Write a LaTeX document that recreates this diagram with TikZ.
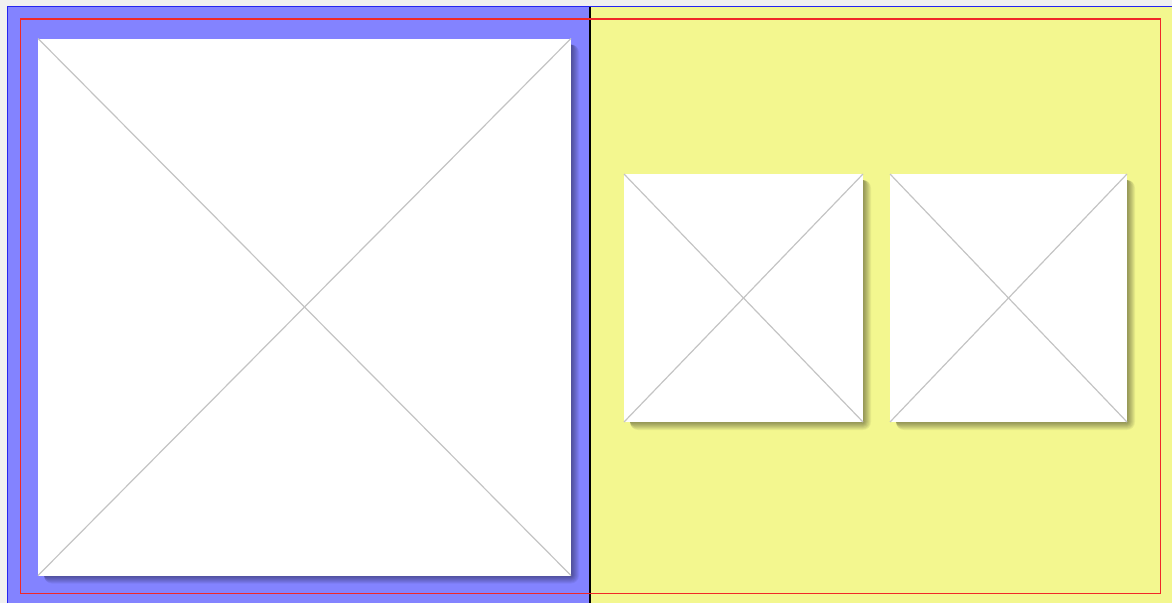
\documentclass[tikz,border=0pt]{standalone}
\usetikzlibrary{calc}
\definecolor{bgGray}{HTML}{F0F0F0}
\definecolor{panelBlue}{HTML}{8383FF}
\definecolor{panelYellow}{HTML}{F3F78F}
\definecolor{edgeBlue}{HTML}{2424F0}
\definecolor{frameRed}{HTML}{F02828}
\definecolor{crossGray}{HTML}{C4C4C4}
\tikzset{
  imgbox/.style={draw=none, fill=white, inner sep=0pt, outer sep=0pt},
  crossline/.style={draw=crossGray, line width=1.2pt},
  panelline/.style={line width=1.6pt}
}
% soft shadow below-right of the named node
\newcommand{\softshadow}[1]{%
  \foreach \d in {8,7,6,5,4,3,2,1}{%
    \fill[black, fill opacity=0.055, rounded corners=\d pt]
      ($(#1.north west)+(6,6)$) rectangle ($(#1.south east)+(\d,\d)$);
  }%
}
\begin{document}
\begin{tikzpicture}[x=1pt,y=-1pt]
  \useasboundingbox (0,0) rectangle (1172,603);
  \fill[bgGray] (0,0) rectangle (1172,603);
  % panels
  \fill[panelBlue] (7.5,6.5) rectangle (590,603);
  \fill[panelYellow] (590,6.5) rectangle (1172,603);
  % borders
  \coordinate (tl) at (7.5,6.5);
  \coordinate (tr) at (1172,6.5);
  \coordinate (bl) at (7.5,603);
  \draw[edgeBlue, panelline] (bl) -- (tl) -- (tr);
  \coordinate (divtop) at (590,7);
  \coordinate (divbot) at (590,603);
  \draw[black, line width=1.1pt] (divtop) -- (divbot);
  % red frame
  \draw[frameRed, line width=1.4pt] (20.5,19) rectangle (1160.5,593.5);
  % images
  \path (38,38.5) coordinate (bigNW);
  \path (624,174) coordinate (s1NW);
  \path (890,174) coordinate (s2NW);
  \node[imgbox, anchor=north west, minimum width=533pt, minimum height=537pt] (big) at (bigNW) {};
  \node[imgbox, anchor=north west, minimum width=239pt, minimum height=248pt] (smallA) at (s1NW) {};
  \node[imgbox, anchor=north west, minimum width=237pt, minimum height=248pt] (smallB) at (s2NW) {};
  \softshadow{big}
  \softshadow{smallA}
  \softshadow{smallB}
  \foreach \n in {big,smallA,smallB}{
    \fill[white] (\n.north west) rectangle (\n.south east);
    \draw[crossline] (\n.north west) -- (\n.south east);
    \draw[crossline] (\n.north east) -- (\n.south west);
  }
\end{tikzpicture}
\end{document}
